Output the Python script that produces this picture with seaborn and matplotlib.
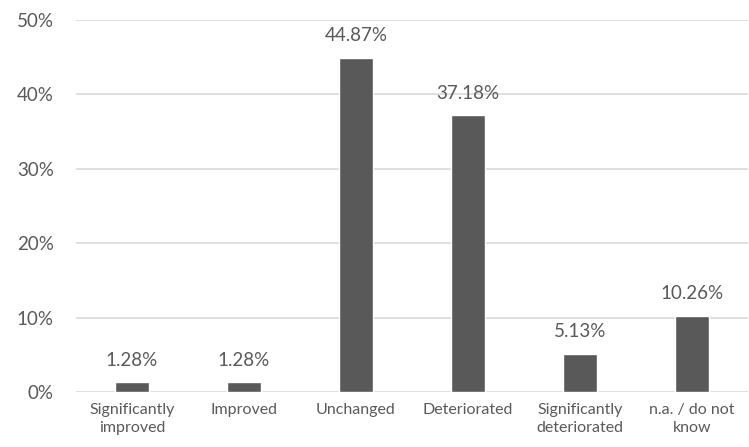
import matplotlib

matplotlib.use("Agg")
import matplotlib.pyplot as plt
import pandas as pd
import seaborn as sns
from matplotlib.ticker import PercentFormatter

categories = ["Significantly\nimproved", "Improved", "Unchanged", "Deteriorated",
              "Significantly\ndeteriorated", "n.a. / do not\nknow"]
shares = [1.28, 1.28, 44.87, 37.18, 5.13, 10.26]

sns.set_theme(style="white")
plt.rcParams["font.family"] = ["Lato", "DejaVu Sans"]

df = pd.DataFrame({"category": categories, "share": shares})

fig = plt.figure(figsize=(7.49, 4.47), dpi=100)
ax = fig.add_axes([0.1015, 0.123, 0.897, 0.832])
sns.barplot(data=df, x="category", y="share", color="#595959", width=0.3,
            saturation=1, ax=ax)

ax.set_ylim(0, 50)
ax.set_yticks(range(0, 51, 10))
ax.yaxis.set_major_formatter(PercentFormatter(decimals=0))
ax.grid(axis="y", color="#d9d9d9", linewidth=1.2)
ax.set_axisbelow(True)
for s in ax.spines.values():
    s.set_visible(False)
ax.tick_params(axis="y", labelsize=13.5, colors="#595959", length=0, pad=16)
ax.tick_params(axis="x", labelsize=11.5, colors="#595959", length=0, pad=8)
for lbl in ax.get_xticklabels():
    lbl.set_linespacing(1.35)
ax.set_xlabel("")
ax.set_ylabel("")

for i, v in enumerate(shares):
    ax.annotate(f"{v:.2f}%", (i, v), xytext=(0, 10), textcoords="offset points",
                ha="center", va="bottom", fontsize=13.5, color="#595959")

fig.savefig("out.png", dpi=100)
